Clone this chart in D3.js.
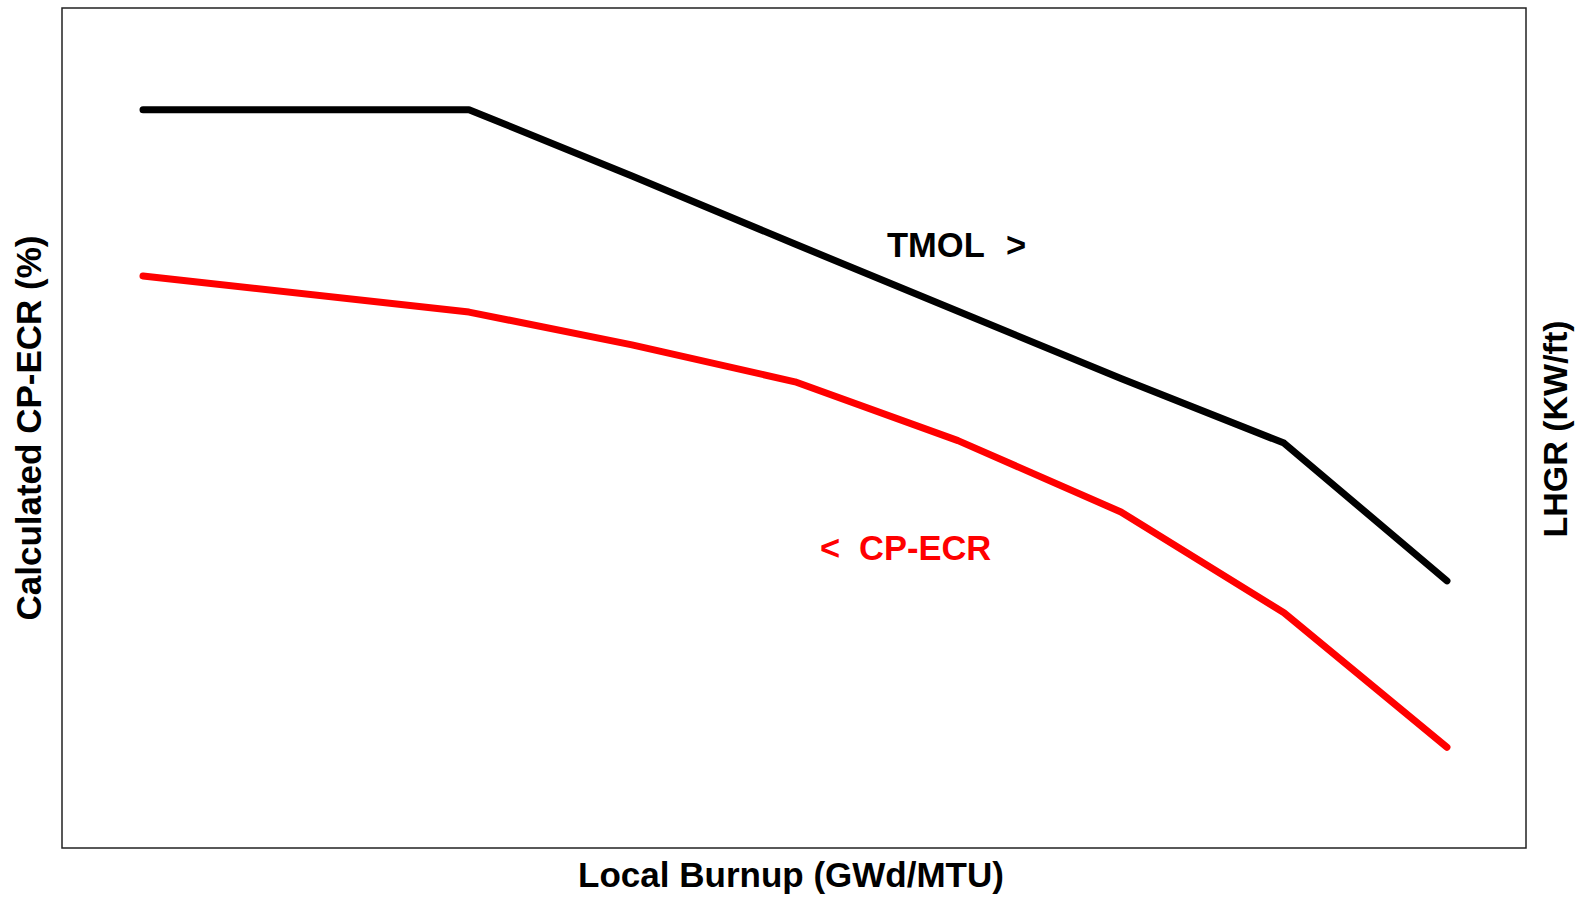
<!DOCTYPE html>
<html lang="en">
	<head>
		<meta charset="utf-8">
		<title>CP-ECR vs Local Burnup</title>
		<script src="https://d3js.org/d3.v7.min.js"></script>
		<style>
			body { margin: 0; background: #fff; }
			text { font-family: "Liberation Sans", Arial, sans-serif; font-weight: bold; }
		</style>
	</head>
	<body>
		<script type="text/javascript">

			// data (no tick labels on the original, so y is in relative units 0-100)
			var burnup = [0, 20, 30, 40, 50, 60, 70, 80];
			var tmol   = [87.9, 87.9, 80.0, 71.9, 63.9, 55.9, 48.2, 31.8];
			var cpecr  = [68.1, 63.8, 59.9, 55.5, 48.5, 40.0, 28.0, 12.0];

			var seriesNames = ["TMOL", "CP-ECR"];
			var labels = { x: "Local Burnup (GWd/MTU)", yLeft: "Calculated CP-ECR (%)", yRight: "LHGR (KW/ft)" };

			// svg size
			var w = 1581;
			var h = 898;

			// plot box
			var box = { left: 62, right: 1526, top: 8, bottom: 848 };

			var xScale = d3.scaleLinear()
				.domain([-4.97, 84.85])
				.range([box.left, box.right]);

			var yScale = d3.scaleLinear()
				.domain([0, 100])
				.range([box.bottom, box.top]);

			var svg = d3.select("body").append("svg").attr("width", w).attr("height", h);

			// frame
			svg.append("rect")
				.attr("x", box.left).attr("y", box.top)
				.attr("width", box.right - box.left).attr("height", box.bottom - box.top)
				.attr("fill", "none")
				.attr("stroke", "#222")
				.attr("stroke-width", 1.5);

			var line = d3.line()
				.x(function(d) { return xScale(d[0]); })
				.y(function(d) { return yScale(d[1]); });

			var lines = [
				{ name: seriesNames[0], color: "#000", pts: d3.zip(burnup, tmol) },
				{ name: seriesNames[1], color: "#ff0000", pts: d3.zip(burnup, cpecr) }
			];

			svg.selectAll("path.series")
				.data(lines)
				.enter()
				.append("path")
				.attr("class", "series")
				.attr("d", function(d) { return line(d.pts); })
				.attr("fill", "none")
				.attr("stroke", function(d) { return d.color; })
				.attr("stroke-width", 7)
				.attr("stroke-linecap", "round")
				.attr("stroke-linejoin", "round");

			// series annotations
			var t1 = svg.append("text")
				.attr("y", 257)
				.attr("font-size", 34.5)
				.attr("fill", "#000");
			t1.append("tspan").attr("x", 887).text(seriesNames[0]);
			t1.append("tspan").attr("x", 1006).text(">");

			var t2 = svg.append("text")
				.attr("y", 560)
				.attr("font-size", 34.5)
				.attr("fill", "#ff0000");
			t2.append("tspan").attr("x", 820).text("<");
			t2.append("tspan").attr("x", 859).text(seriesNames[1]);

			// axis titles
			svg.append("text")
				.attr("x", 791).attr("y", 887)
				.attr("text-anchor", "middle")
				.attr("font-size", 35)
				.attr("fill", "#000")
				.text(labels.x);

			svg.append("text")
				.attr("transform", "translate(41,428) rotate(-90)")
				.attr("text-anchor", "middle")
				.attr("font-size", 35)
				.attr("fill", "#000")
				.text(labels.yLeft);

			svg.append("text")
				.attr("transform", "translate(1567,429) rotate(-90)")
				.attr("text-anchor", "middle")
				.attr("font-size", 34)
				.attr("fill", "#000")
				.text(labels.yRight);

		</script>
	</body>
</html>
